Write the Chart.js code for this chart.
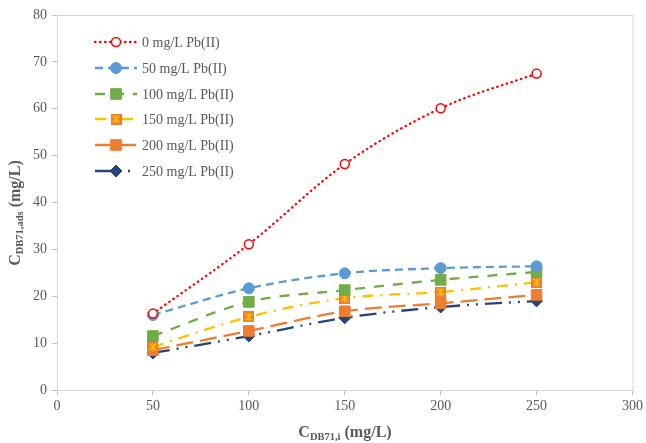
<!DOCTYPE html>
<html><head><meta charset="utf-8">
<script src="https://cdn.jsdelivr.net/npm/chart.js@4/dist/chart.umd.min.js"></script>
<style>html,body{margin:0;padding:0;background:#fff}#wrap{width:646px;height:443px}</style>
</head><body><div id="wrap"><canvas id="c" width="646" height="443"></canvas></div>
<script>
const xValues = [50, 100, 150, 200, 250];
const seriesLabels = ["0 mg/L Pb(II)", "50 mg/L Pb(II)", "100 mg/L Pb(II)", "150 mg/L Pb(II)", "200 mg/L Pb(II)", "250 mg/L Pb(II)"];
const s0 = [16.3, 31.1, 48.2, 60.1, 67.5];
const s50 = [16.0, 21.7, 24.9, 26.0, 26.4];
const s100 = [11.5, 18.8, 21.3, 23.5, 25.2];
const s150 = [9.2, 15.6, 19.6, 20.9, 23.0];
const s200 = [8.5, 12.6, 16.8, 18.5, 20.3];
const s250 = [7.9, 11.5, 15.4, 17.7, 19.0];
const xTicks = [0, 50, 100, 150, 200, 250, 300];
const yTicks = [0, 10, 20, 30, 40, 50, 60, 70, 80];

const FONT = "'Liberation Serif','Times New Roman',serif";

function starMarker(){
  const c = document.createElement('canvas'); c.width = 11; c.height = 11;
  const g = c.getContext('2d');
  g.fillStyle = '#ED7D31'; g.fillRect(0,0,11,11);
  g.strokeStyle = '#FFC000'; g.lineWidth = 1.4;
  g.beginPath(); g.moveTo(2,2); g.lineTo(9,9); g.moveTo(9,2); g.lineTo(2,9);
  g.moveTo(5.5,1.5); g.lineTo(5.5,9.5); g.stroke();
  return c;
}
const star = starMarker();

function pts(arr){ return arr.map((v,i)=>({x:xValues[i], y:v})); }

const styles = [
  {color:'#FF0000', dash:[0.5,4.5], cap:'round', ps:'circle', r:4.5, fill:'#FFFFFF', bw:1.5},
  {color:'#5B9BD5', dash:[8,5], cap:'butt', ps:'circle', r:5.5, fill:'#5B9BD5', bw:1},
  {color:'#70AD47', dash:[10,9], cap:'butt', ps:'rect', r:7.5, fill:'#70AD47', bw:1},
  {color:'#FFC000', dash:[11,7,2,7], cap:'butt', ps:star, r:6, fill:'#ED7D31', bw:1},
  {color:'#ED7D31', dash:[17,7], cap:'butt', ps:'rect', r:7.5, fill:'#ED7D31', bw:1},
  {color:'#264478', dash:[17,7,2,7,2,7], cap:'butt', ps:'rectRot', r:6, fill:'#264478', bw:1}
];
const allSeries = [s0, s50, s100, s150, s200, s250];

const datasets = allSeries.map((s,i)=>{
  const st = styles[i];
  return {
    label: seriesLabels[i], data: pts(s),
    borderColor: st.color, borderWidth: 2.3, borderDash: st.dash, borderCapStyle: st.cap,
    tension: 0.4, cubicInterpolationMode: 'monotone',
    pointStyle: st.ps, pointRadius: st.r, pointBackgroundColor: st.fill,
    pointBorderColor: i===0 ? '#FF0000' : st.fill, pointBorderWidth: st.bw
  };
});

const frame = {
  id:'frame',
  beforeDatasetsDraw(chart){
    const a = chart.chartArea, ctx = chart.ctx;
    ctx.save(); ctx.strokeStyle = '#D9D9D9'; ctx.lineWidth = 1;
    ctx.strokeRect(a.left+0.5, a.top+0.5, a.right-a.left, a.bottom-a.top);
    ctx.restore();
  },
  afterDraw(chart){
    const ctx = chart.ctx;
    // legend
    ctx.save();
    const rowsY = [42, 68, 94, 119, 145, 171];
    chart.data.datasets.forEach((ds,i)=>{
      const y = rowsY[i];
      ctx.save();
      ctx.strokeStyle = ds.borderColor; ctx.lineWidth = 2.3;
      ctx.setLineDash(ds.borderDash); ctx.lineCap = ds.borderCapStyle;
      ctx.beginPath(); ctx.moveTo(95, y); ctx.lineTo(137, y); ctx.stroke();
      ctx.restore();
      ctx.save();
      ctx.fillStyle = ds.pointBackgroundColor; ctx.strokeStyle = ds.pointBorderColor; ctx.lineWidth = ds.pointBorderWidth;
      Chart.helpers.drawPoint(ctx, {pointStyle: ds.pointStyle, radius: ds.pointRadius, borderWidth: ds.pointBorderWidth, rotation:0}, 116, y);
      ctx.restore();
      ctx.fillStyle = '#595959'; ctx.font = '14px ' + FONT; ctx.textBaseline = 'middle'; ctx.textAlign='left';
      ctx.fillText(ds.label, 142, y+1);
    });
    ctx.restore();
    // axis titles
    function drawSub(parts){
      let w = 0;
      parts.forEach(p=>{ ctx.font = 'bold '+p.s+'px '+FONT; p.w = ctx.measureText(p.t).width; w += p.w; });
      let x = -w/2;
      parts.forEach(p=>{ ctx.font = 'bold '+p.s+'px '+FONT; ctx.fillText(p.t, x, p.dy); x += p.w; });
    }
    ctx.save();
    ctx.fillStyle = '#595959'; ctx.textBaseline = 'alphabetic'; ctx.textAlign = 'left';
    ctx.translate(345, 437);
    drawSub([{t:'C',s:16,dy:0},{t:'DB71,i',s:10.5,dy:3},{t:' (mg/L)',s:16,dy:0}]);
    ctx.restore();
    ctx.save();
    ctx.fillStyle = '#595959'; ctx.textBaseline = 'alphabetic'; ctx.textAlign = 'left';
    ctx.translate(20, 213); ctx.rotate(-Math.PI/2);
    drawSub([{t:'C',s:16,dy:0},{t:'DB71,ads',s:10.5,dy:3},{t:' (mg/L)',s:16,dy:0}]);
    ctx.restore();
  }
};

new Chart(document.getElementById('c'), {
  type: 'line',
  data: { datasets },
  options: {
    responsive: false, animation: false, devicePixelRatio: 1,
    layout: { padding: { left: 0, top: 15, right: 13, bottom: 0 } },
    plugins: { legend: { display: false }, tooltip: { enabled: false } },
    scales: {
      x: {
        type: 'linear', min: 0, max: 300,
        afterFit(s){ s.height = 53; },
        afterBuildTicks(s){ s.ticks = xTicks.map(v=>({value:v})); },
        ticks: { color: '#595959', font: { family: FONT, size: 14 }, padding: 3 },
        grid: { drawOnChartArea: false, drawTicks: true, tickLength: 5, color: '#BFBFBF' },
        border: { color: '#BFBFBF' }
      },
      y: {
        min: 0, max: 80,
        afterFit(s){ s.width = 57; },
        afterBuildTicks(s){ s.ticks = yTicks.map(v=>({value:v})); },
        ticks: { color: '#595959', font: { family: FONT, size: 14 }, padding: 5 },
        grid: { drawOnChartArea: false, drawTicks: true, tickLength: 5, color: '#BFBFBF' },
        border: { color: '#BFBFBF' }
      }
    }
  },
  plugins: [frame]
});
</script>
</body></html>
